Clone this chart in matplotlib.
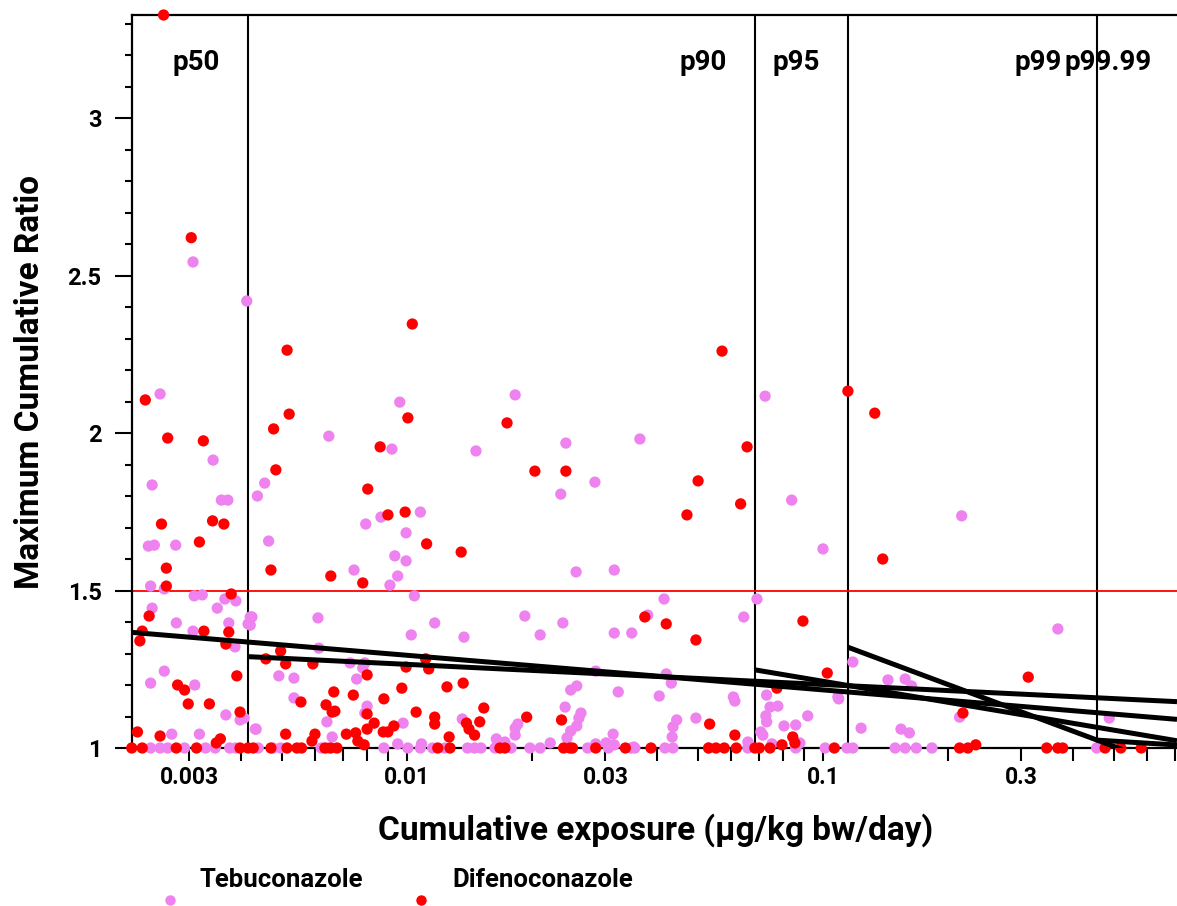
import matplotlib
matplotlib.use("Agg")
import matplotlib.pyplot as plt
from matplotlib.ticker import FixedLocator, FixedFormatter, MultipleLocator
import numpy as np

plt.rcParams['font.family'] = ['Roboto', 'DejaVu Sans']
plt.rcParams['font.weight'] = 'bold'

# ---------------- data ----------------
series_names = ["Tebuconazole", "Difenoconazole"]
series_colors = ["#EE82EE", "#FF0000"]

# Tebuconazole (violet)
teb_x = [0.00306, 0.00412, 0.00255, 0.00342, 0.00244, 0.00358, 0.00371, 0.00239, 0.00247, 0.00278,
         0.00242, 0.00261, 0.00308, 0.00322, 0.0035, 0.00365, 0.00388, 0.00244, 0.00279, 0.00306,
         0.00373, 0.00415, 0.00424, 0.00386, 0.00261, 0.00242, 0.00309, 0.00367, 0.00397, 0.00406,
         0.00272, 0.00317, 0.00434,
         0.00242, 0.00255, 0.00266, 0.00292, 0.00328, 0.00346, 0.00375, 0.00388,
         0.0182, 0.00961, 0.00649, 0.0092, 0.01465, 0.0241, 0.0363, 0.00455, 0.00437, 0.02343,
         0.0283, 0.00866, 0.01077, 0.00796, 0.00995, 0.00465, 0.00935, 0.00746, 0.0095, 0.0091,
         0.00995, 0.0255, 0.0315, 0.01042, 0.0415, 0.0694, 0.0042, 0.0042, 0.00611, 0.01166,
         0.0192, 0.0237, 0.0379, 0.0645, 0.01024, 0.01371, 0.0209, 0.0315, 0.0347, 0.00614,
         0.0073, 0.00792, 0.00783, 0.00492, 0.00535, 0.00757, 0.02843, 0.042, 0.0432, 0.02475,
         0.0256, 0.0322, 0.0404, 0.0609, 0.0614, 0.00535, 0.00802, 0.00792, 0.024, 0.0262,
         0.0259, 0.0256, 0.02475, 0.02425, 0.01358, 0.00979, 0.00642, 0.00432, 0.01847, 0.0182,
         0.0182, 0.0445, 0.0436, 0.0434, 0.0495, 0.0313, 0.066, 0.00661, 0.0095, 0.01084,
         0.0164, 0.0172, 0.0221, 0.02843, 0.0301, 0.0315, 0.0351,
         0.00439, 0.00476, 0.00497, 0.00622, 0.00646, 0.0088, 0.01005, 0.01077, 0.01153, 0.01234,
         0.01399, 0.01454, 0.01506, 0.01628, 0.0178, 0.01975, 0.0209, 0.0272, 0.0305, 0.0346,
         0.0353, 0.0417, 0.0436, 0.0531, 0.066,
         0.0726, 0.0841, 0.1, 0.2155, 0.367, 0.118, 0.1433, 0.1576, 0.1633, 0.0732,
         0.0746, 0.0779, 0.0729, 0.0732, 0.0806, 0.086, 0.0919, 0.1086, 0.1091, 0.0709,
         0.0717, 0.0754, 0.088, 0.1235, 0.154, 0.1613, 0.213, 0.4877,
         0.086, 0.1012, 0.1142, 0.118, 0.1491, 0.1576, 0.1676, 0.1828, 0.455]
teb_y = [2.543, 2.419, 2.124, 1.914, 1.835, 1.787, 1.787, 1.641, 1.644, 1.644,
         1.514, 1.505, 1.483, 1.486, 1.444, 1.473, 1.467, 1.444, 1.397, 1.371,
         1.397, 1.394, 1.416, 1.321, 1.244, 1.206, 1.200, 1.105, 1.089, 1.095,
         1.044, 1.044, 1.060,
         1.0, 1.0, 1.0, 1.0, 1.0, 1.0, 1.0, 1.0,
         2.121, 2.098, 1.990, 1.949, 1.943, 1.968, 1.981, 1.841, 1.800, 1.806,
         1.844, 1.733, 1.749, 1.711, 1.683, 1.657, 1.610, 1.565, 1.546, 1.517,
         1.594, 1.559, 1.565, 1.483, 1.473, 1.473, 1.416, 1.390, 1.413, 1.397,
         1.419, 1.397, 1.422, 1.416, 1.359, 1.352, 1.359, 1.365, 1.365, 1.317,
         1.270, 1.270, 1.254, 1.229, 1.222, 1.219, 1.244, 1.235, 1.206, 1.184,
         1.197, 1.178, 1.165, 1.162, 1.149, 1.159, 1.133, 1.111, 1.130, 1.111,
         1.095, 1.070, 1.054, 1.032, 1.092, 1.079, 1.083, 1.060, 1.076, 1.063,
         1.041, 1.089, 1.067, 1.035, 1.095, 1.044, 1.019, 1.035, 1.013, 1.013,
         1.029, 1.019, 1.016, 1.013, 1.016, 1.010, 1.003,
         1.0, 1.0, 1.0, 1.0, 1.0, 1.0, 1.0, 1.0, 1.0, 1.0,
         1.0, 1.0, 1.0, 1.0, 1.0, 1.0, 1.0, 1.0, 1.0, 1.0,
         1.0, 1.0, 1.0, 1.0, 1.0,
         2.117, 1.787, 1.632, 1.737, 1.378, 1.273, 1.216, 1.219, 1.197, 1.168,
         1.130, 1.133, 1.102, 1.083, 1.070, 1.073, 1.102, 1.162, 1.156, 1.051,
         1.041, 1.013, 1.016, 1.063, 1.060, 1.048, 1.098, 1.095,
         1.0, 1.0, 1.0, 1.0, 1.0, 1.0, 1.0, 1.0, 1.0]

# Difenoconazole (red)
dif_x = [0.0026, 0.00303, 0.00235, 0.00266, 0.00324, 0.00257, 0.00317, 0.00341, 0.00363, 0.00264,
         0.00264, 0.00378, 0.0024, 0.00231, 0.00228, 0.00325, 0.00373, 0.00367, 0.0039, 0.00281,
         0.00292, 0.00298, 0.00335, 0.00397, 0.00225, 0.00255, 0.00356, 0.00348,
         0.00218, 0.00231, 0.00279, 0.00312, 0.00397, 0.00415,
         0.0103, 0.00515, 0.0572, 0.00521, 0.01005, 0.0174, 0.00478, 0.00862, 0.0657, 0.0241,
         0.00484, 0.0203, 0.00805, 0.0501, 0.009, 0.0099, 0.0634, 0.0471, 0.01115, 0.0135,
         0.00471, 0.00656, 0.00783, 0.0373, 0.042, 0.0495, 0.00497, 0.00458, 0.00511, 0.00594,
         0.01109, 0.01128, 0.00995, 0.00802, 0.00972, 0.00667, 0.00743, 0.0088, 0.01248, 0.01365,
         0.00556, 0.00639, 0.00661, 0.00671, 0.00802, 0.01052, 0.01166, 0.01166, 0.0153, 0.0194,
         0.02353, 0.0534, 0.00834, 0.00802, 0.0093, 0.00877, 0.009, 0.0139, 0.0141, 0.01454,
         0.01496, 0.00511, 0.00601, 0.00591, 0.00715, 0.00753, 0.00762, 0.00789, 0.01263, 0.0614,
         0.00427, 0.00471, 0.00515, 0.00544, 0.00558, 0.00635, 0.00656, 0.00679, 0.01186, 0.01269,
         0.01673, 0.0172, 0.0238, 0.02464, 0.025, 0.02843, 0.0335, 0.0386, 0.0531, 0.0553,
         0.0579, 0.0619, 0.0686,
         0.1148, 0.1332, 0.1392, 0.0895, 0.1024, 0.3115, 0.0775, 0.217, 0.0846, 0.0856,
         0.0797, 0.233,
         0.1065, 0.213, 0.223, 0.345, 0.367, 0.377, 0.4766, 0.52, 0.582, 0.0703, 0.0746]
dif_y = [3.327, 2.62, 2.105, 1.984, 1.975, 1.711, 1.654, 1.721, 1.711, 1.571,
         1.514, 1.489, 1.419, 1.371, 1.340, 1.371, 1.368, 1.330, 1.229, 1.200,
         1.184, 1.140, 1.140, 1.114, 1.051, 1.038, 1.029, 1.016,
         1.0, 1.0, 1.0, 1.0, 1.0, 1.0,
         2.346, 2.263, 2.260, 2.060, 2.048, 2.032, 2.013, 1.956, 1.956, 1.879,
         1.883, 1.879, 1.822, 1.848, 1.740, 1.749, 1.775, 1.740, 1.648, 1.622,
         1.565, 1.546, 1.524, 1.416, 1.394, 1.343, 1.308, 1.283, 1.267, 1.267,
         1.283, 1.251, 1.257, 1.232, 1.190, 1.178, 1.168, 1.156, 1.194, 1.206,
         1.146, 1.137, 1.114, 1.117, 1.108, 1.114, 1.098, 1.076, 1.127, 1.098,
         1.089, 1.076, 1.079, 1.060, 1.070, 1.051, 1.051, 1.079, 1.060, 1.041,
         1.083, 1.044, 1.044, 1.022, 1.044, 1.048, 1.022, 1.010, 1.035, 1.041,
         1.0, 1.0, 1.0, 1.0, 1.0, 1.0, 1.0, 1.0, 1.0, 1.0,
         1.0, 1.0, 1.0, 1.0, 1.0, 1.0, 1.0, 1.0, 1.0, 1.0,
         1.0, 1.0, 1.0,
         2.133, 2.063, 1.600, 1.403, 1.238, 1.225, 1.190, 1.111, 1.035, 1.016,
         1.010, 1.010,
         1.0, 1.0, 1.0, 1.0, 1.0, 1.0, 1.0, 1.0, 1.0, 1.0, 1.0]

# percentile thresholds of cumulative exposure
pct_labels = ["p50", "p90", "p95", "p99", "p99.99"]
pct_values = [0.00415, 0.0687, 0.1148, 0.456, 0.72]

# trend lines (start exposure, MCR at start, slope per log10 unit)
trend_start = [0.002183, 0.00415, 0.0687, 0.1148, 0.456]
trend_y0 = [1.367, 1.290, 1.248, 1.320, 1.025]
trend_slope = [-0.1099, -0.0640, -0.2219, -0.4925, -0.0807]

mcr_threshold = 1.5

x_limits = (0.002183, 0.7096)
y_limits = (1.0, 3.327)
x_tick_labels = {0.003: "0.003", 0.01: "0.01", 0.03: "0.03", 0.1: "0.1", 0.3: "0.3"}
y_major = [1, 1.5, 2, 2.5, 3]
y_major_labels = ["1", "1.5", "2", "2.5", "3"]

# ---------------- figure ----------------
W, H = 1177, 906
fig = plt.figure(figsize=(W / 100, H / 100), dpi=100)
ax = fig.add_axes([132 / W, 1 - 748 / H, 1 - 132 / W, (748 - 15) / H])
ax.set_xscale("log")
ax.set_xlim(*x_limits)
ax.set_ylim(*y_limits)

# percentile lines + labels (label offset to the left of each line, in points)
label_offsets = [-20, -20, -20, -25.5, -20]
for lab, v, off in zip(pct_labels, pct_values, label_offsets):
    ax.axvline(v, color="black", lw=1.5, zorder=1)
    ax.annotate(lab, xy=(v, 3.152), xytext=(off, 0), textcoords="offset points",
                ha="right", va="baseline", fontsize=20, fontweight="bold",
                annotation_clip=False, zorder=5)

ax.axhline(mcr_threshold, color="#FF0000", lw=1.3, zorder=1)

ax.scatter(teb_x, teb_y, s=66, color=series_colors[0], edgecolors="none",
           zorder=3, clip_on=False)
ax.scatter(dif_x, dif_y, s=66, color=series_colors[1], edgecolors="none",
           zorder=3, clip_on=False)

xmax = x_limits[1]
for x0, y0, b in zip(trend_start, trend_y0, trend_slope):
    xs = np.array([x0, xmax])
    ys = y0 + b * (np.log10(xs) - np.log10(x0))
    ax.plot(xs, ys, color="black", lw=3.6, zorder=4, solid_capstyle="butt")

# axes styling
for s in ["left", "bottom", "top"]:
    ax.spines[s].set_linewidth(1.6)
    ax.spines[s].set_zorder(2)
ax.spines["right"].set_visible(False)

all_x_ticks = [m * 10.0 ** e for e in (-3, -2, -1) for m in range(1, 10)]
all_x_ticks = [t for t in all_x_ticks if x_limits[0] <= t <= x_limits[1]]
maj = [t for t in all_x_ticks if any(abs(t - k) / k < 1e-6 for k in x_tick_labels)]
mnr = [t for t in all_x_ticks if t not in maj]
ax.xaxis.set_major_locator(FixedLocator(maj))
ax.xaxis.set_major_formatter(FixedFormatter([x_tick_labels[min(x_tick_labels, key=lambda k: abs(k - t))] for t in maj]))
ax.xaxis.set_minor_locator(FixedLocator(mnr))
ax.xaxis.set_minor_formatter(FixedFormatter([""] * len(mnr)))
ax.tick_params(axis="x", which="both", direction="out", length=9, width=1.5, pad=4,
               labelsize=16.5)

ax.yaxis.set_major_locator(FixedLocator(y_major))
ax.yaxis.set_major_formatter(FixedFormatter(y_major_labels))
ax.yaxis.set_minor_locator(MultipleLocator(0.1))
ax.tick_params(axis="y", which="major", direction="out", length=12, width=1.5, pad=10,
               labelsize=17)
ax.tick_params(axis="y", which="minor", direction="out", length=5, width=1.5)
for lbl in ax.get_xticklabels() + ax.get_yticklabels():
    lbl.set_fontweight("bold")

ax.set_xlabel("Cumulative exposure (\u00b5g/kg bw/day)", fontsize=24, fontweight="bold")
ax.set_ylabel("Maximum Cumulative Ratio", fontsize=24, fontweight="bold")
ax.xaxis.set_label_coords((656 - 132) / (W - 132), -(830 - 748) / (748 - 15))
ax.xaxis.label.set_va("center")
ax.yaxis.set_label_coords(-(132 - 30) / (W - 132), (748 - 382) / (748 - 15))
ax.yaxis.label.set_va("center")

# legend (markers below-left of names, as in the source)
leg_marker_x = [170, 421]
leg_text_x = [200, 452]
for name, col, mx, tx in zip(series_names, series_colors, leg_marker_x, leg_text_x):
    fig.text(tx / W, 1 - 880 / H, name, ha="left", va="center", fontsize=18.5, fontweight="bold")
    fig.add_artist(plt.Line2D([mx / W], [1 - 900 / H], marker="o", markersize=7.5,
                              color=col, markeredgewidth=0, linestyle="none",
                              transform=fig.transFigure))

fig.savefig("out.png", dpi=100)
